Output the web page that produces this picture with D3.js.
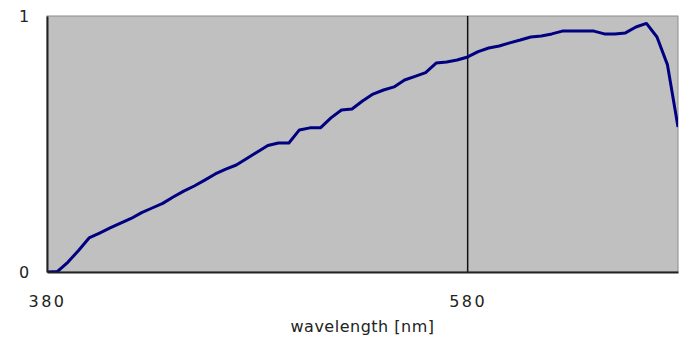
<!DOCTYPE html>
<html>
<head>
<meta charset="utf-8">
<script src="https://cdn.jsdelivr.net/npm/d3@7"></script>
<style>
    body { margin: 0; background: #fff; }
    .axis text { font-family: "DejaVu Sans", sans-serif; font-size: 16px; fill: #222; }
    .x-axis text { letter-spacing: 2.5px; }
    .axis .domain { stroke: #222; stroke-width: 2; }
    .axis-title { font-family: "DejaVu Sans", sans-serif; font-size: 16px; letter-spacing: 0.5px; fill: #222; }
</style>
</head>
<body>
<div id="chart"></div>
<script>

// wavelength (nm), every 5 nm
let wavelengths = [380, 385, 390, 395, 400, 405, 410, 415, 420, 425,
    430, 435, 440, 445, 450, 455, 460, 465, 470, 475,
    480, 485, 490, 495, 500, 505, 510, 515, 520, 525,
    530, 535, 540, 545, 550, 555, 560, 565, 570, 575,
    580, 585, 590, 595, 600, 605, 610, 615, 620, 625,
    630, 635, 640, 645, 650, 655, 660, 665, 670, 675, 680];

// relative response
let response = [0.000, 0.002, 0.039, 0.084, 0.133, 0.152, 0.172, 0.191, 0.209, 0.232,
    0.250, 0.268, 0.293, 0.316, 0.336, 0.359, 0.383, 0.402, 0.418, 0.443,
    0.469, 0.494, 0.504, 0.504, 0.555, 0.563, 0.563, 0.602, 0.633, 0.637,
    0.668, 0.695, 0.711, 0.723, 0.750, 0.764, 0.779, 0.816, 0.820, 0.828,
    0.840, 0.861, 0.875, 0.883, 0.895, 0.906, 0.918, 0.922, 0.930, 0.941,
    0.941, 0.941, 0.941, 0.930, 0.930, 0.934, 0.957, 0.971, 0.918, 0.809, 0.566];

let xTicks = [380, 580];
let yTicks = [0, 1];
let markerWavelength = 580;
let xDomain = [380, 680];
let yDomain = [0, 1];

let data = wavelengths.map((w, i) => ({ wl: w, value: response[i] }));

let margin = {top: 16, right: 7, bottom: 66, left: 47};
let width = 685 - margin.left - margin.right;
let height = 338 - margin.top - margin.bottom;

let svg = d3.select("#chart").append("svg")
    .attr("width", width + margin.left + margin.right)
    .attr("height", height + margin.top + margin.bottom)
    .append("g")
    .attr("transform", "translate(" + margin.left + "," + margin.top + ")");

// Scales
let x = d3.scaleLinear().domain(xDomain).range([0, width]);
let y = d3.scaleLinear().domain(yDomain).range([height, 0]);

// Plot background
svg.append("rect")
    .attr("width", width)
    .attr("height", height)
    .attr("fill", "#c0c0c0")
    .attr("stroke", "#8c8c8c")
    .attr("stroke-width", 1);

svg.append("defs")
    .append("clipPath")
    .attr("id", "clip")
    .append("rect")
    .attr("width", width)
    .attr("height", height);

// vertical line at 580 nm
svg.append("line")
    .attr("x1", x(markerWavelength))
    .attr("x2", x(markerWavelength))
    .attr("y1", 0)
    .attr("y2", height)
    .attr("stroke", "#111")
    .attr("stroke-width", 1.5);

// Curve
let line = d3.line()
    .x(d => x(d.wl))
    .y(d => y(d.value));

svg.append("path")
    .datum(data)
    .attr("d", line)
    .attr("fill", "none")
    .attr("stroke", "#000080")
    .attr("stroke-width", 3)
    .attr("stroke-linejoin", "round")
    .attr("clip-path", "url(#clip)");

// Axes
let xAxis = d3.axisBottom(x)
    .tickValues(xTicks)
    .tickSize(0)
    .tickPadding(24)
    .tickFormat(d3.format("d"));

let yAxis = d3.axisLeft(y)
    .tickValues(yTicks)
    .tickSize(0)
    .tickPadding(18)
    .tickFormat(d3.format("d"));

svg.append("g")
    .attr("class", "x-axis axis")
    .attr("transform", "translate(0," + height + ")")
    .call(xAxis);

svg.append("g")
    .attr("class", "y-axis axis")
    .call(yAxis);

svg.selectAll(".y-axis text").attr("text-anchor", "middle").attr("x", -23);

// Axis title
svg.append("text")
    .attr("class", "axis-title")
    .attr("x", width / 2)
    .attr("y", height + 60)
    .attr("text-anchor", "middle")
    .text("wavelength [nm]");

</script>
</body>
</html>
